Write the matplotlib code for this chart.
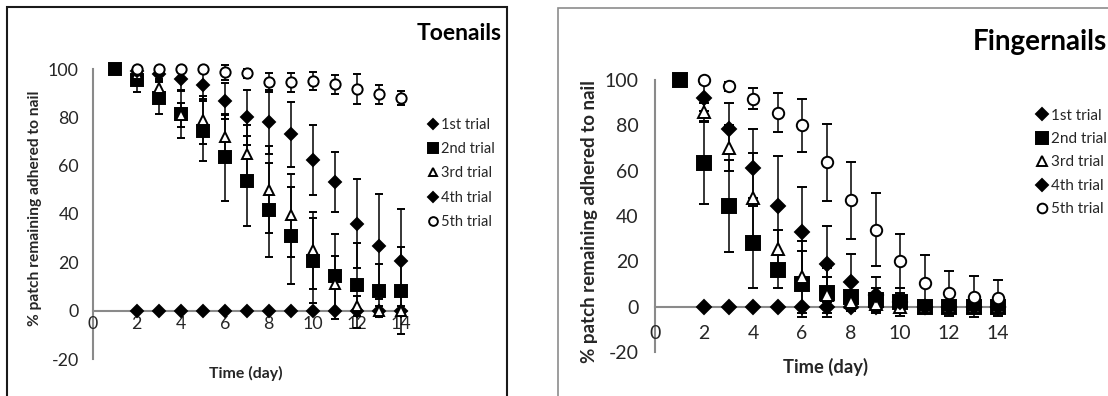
import numpy as np
import matplotlib
matplotlib.use('Agg')
import matplotlib.pyplot as plt
from matplotlib.patches import Rectangle

plt.rcParams['font.family'] = ['Lato', 'DejaVu Sans']
plt.rcParams['axes.unicode_minus'] = False

nan = np.nan
days = np.arange(1, 15)
labels = ['1st trial', '2nd trial', '3rd trial', '4th trial', '5th trial']

# toenails: mean and error per trial
toe_t1 = [nan, 0, 0, 0, 0, 0, 0, 0, 0, 0, 0, 0, 0, 0]
toe_t2 = [100, 95.4, 88, 81.3, 74.4, 63.4, 53.7, 41.6, 31, 20.7, 14.2, 10.5, 8.3, 8.3]
toe_t3 = [nan, 98, 92, 81, 79, 72, 65, 50, 39.4, 25, 11, 2, 0, 0]
toe_t4 = [nan, 99, 98, 96, 93.4, 86.8, 80, 78.2, 73, 62.4, 53.4, 36, 26.6, 20.4]
toe_t5 = [nan, 100, 100, 100, 100, 98.6, 98.2, 94.5, 94.5, 95, 93.7, 91.7, 89.5, 88.1]
toe_e2 = [0, 5, 6.7, 10, 12.4, 18, 18.7, 19.5, 20, 17.5, 17.5, 17.5, 11, 18]
toe_e3 = [nan, 2, 3, 5, 10, 9, 12, 18, 17, 16, 11.7, 4, 2, 2]
toe_e4 = [nan, 1, 2, 5, 6, 7.5, 11.5, 13.3, 13.5, 14.6, 12.4, 18.5, 21.6, 21.6]
toe_e5 = [nan, 0.5, 1, 1, 1, 3, 2, 4, 4, 3.7, 4, 6.2, 4, 3]

# fingernails
fin_t1 = [nan, 0, 0, 0, 0, 0, 0, 0, 0, 0, 0, 0, 0, 0]
fin_t2 = [100, 63.4, 44.3, 28, 16.2, 10, 6.2, 4.4, 3, 2.2, 0, 0, 0, 0]
fin_t3 = [nan, 85.8, 70, 48, 25.4, 13, 5, 2, 1, 0, 0, 0, 0, 0]
fin_t4 = [nan, 92.2, 78.5, 61.2, 44.6, 32.7, 18.9, 11, 5, 2, 0, 0, 0, 0]
fin_t5 = [nan, 100, 97.3, 91.8, 85.6, 80, 63.7, 47, 34, 20, 10.3, 5.9, 4.4, 3.7]
fin_e2 = [1, 18, 20.4, 20, 8, 14.4, 11, 6, 5, 4, 1, 1, 1, 1]
fin_e3 = [nan, 4, 10, 20, 8.6, 16, 8, 4, 3, 2, 0, 0, 0, 0]
fin_e4 = [nan, 6, 11.2, 17, 21.8, 20, 16.8, 12, 8, 6, 0, 0, 0, 0]
fin_e5 = [nan, 1, 2, 4.6, 8.7, 11.6, 17, 17, 16, 12, 12.3, 10, 9, 8]

AXIS_GRAY = '#8a8a8a'
TEXT = '#262626'


def draw_panel(ax, series, errs, scale, tick_fs, xpad, ypad):
    # marker style per trial: (marker, facecolor, size)
    styles = [('D', 'black', 6.1), ('s', 'black', 8.6), ('^', 'white', 7.4),
              ('D', 'black', 6.1), ('o', 'white', 7.4)]
    handles = []
    for vals, err, (m, fc, ms), lab in zip(series, errs, styles, labels):
        eb = ax.errorbar(days, vals, yerr=err, fmt=m, color='black', mfc=fc,
                         mec='black', mew=1.4, ms=ms * scale, ecolor='black',
                         elinewidth=1.1, capsize=3.2 * scale, capthick=1.1,
                         label=lab, clip_on=False, zorder=3)
        handles.append(eb[0])
    ax.set_xlim(0, 14.3)
    ax.set_ylim(-20, 100)
    ax.set_xticks(range(0, 15, 2))
    ax.set_yticks(range(-20, 101, 20))
    for s in ['top', 'right']:
        ax.spines[s].set_visible(False)
    ax.spines['bottom'].set_position(('data', 0))
    ax.spines['left'].set_position(('data', 0))
    for s in ['bottom', 'left']:
        ax.spines[s].set_color(AXIS_GRAY)
        ax.spines[s].set_linewidth(1.5)
        ax.spines[s].set_zorder(1)
    ax.tick_params(axis='both', length=0, labelsize=tick_fs, colors=TEXT)
    ax.tick_params(axis='x', pad=xpad)
    ax.tick_params(axis='y', pad=ypad)
    ax.patch.set_alpha(0)
    return handles


fig = plt.figure(figsize=(11.08, 3.96), dpi=100)
W, H = 1108, 396


def fx(px):
    return px / W


def fy(py):
    return 1 - py / H


# chart frames
fig.patches.append(Rectangle((fx(7), fy(400)), fx(500), (400 - 7) / H, transform=fig.transFigure,
                             fill=False, ec='#1a1a1a', lw=1.5, zorder=0))
fig.patches.append(Rectangle((fx(558), fy(400)), fx(600), (400 - 8) / H, transform=fig.transFigure,
                             fill=False, ec='#8c8c8c', lw=1.2, zorder=0))

# left: toenails
ax1 = fig.add_axes([fx(92.7), fy(359), fx(407.3 - 92.7), (359 - 69) / H])
h1 = draw_panel(ax1, [toe_t1, toe_t2, toe_t3, toe_t4, toe_t5],
                [None, toe_e2, toe_e3, toe_e4, toe_e5], 1.0, 12.8, 4, 10)
fig.text(fx(502), fy(33), 'Toenails', ha='right', va='center', fontsize=16.5,
         fontweight='bold', color='black')
fig.text(fx(35), fy(208), '% patch remaining adhered to nail', rotation=90, ha='center',
         va='center', fontsize=11.2, fontweight='bold', color=TEXT)
fig.text(fx(246), fy(373), 'Time (day)', ha='center', va='center', fontsize=11.4,
         fontweight='bold', color=TEXT)
fig.legend(handles=h1, labels=labels, loc='upper left', bbox_to_anchor=(fx(427), fy(118)),
           frameon=False, fontsize=10.5, handlelength=0.8, handletextpad=0.15,
           labelspacing=0.7, borderpad=0, borderaxespad=0, markerscale=0.85,
           labelcolor=TEXT)

# right: fingernails
ax2 = fig.add_axes([fx(655), fy(351.9), fx(1005.4 - 655), (351.9 - 80) / H])
h2 = draw_panel(ax2, [fin_t1, fin_t2, fin_t3, fin_t4, fin_t5],
                [None, fin_e2, fin_e3, fin_e4, fin_e5], 1.11, 14, 13, 12)
fig.text(fx(1107), fy(42), 'Fingernails', ha='right', va='center', fontsize=20,
         fontweight='bold', color='black')
fig.text(fx(590), fy(222), '% patch remaining adhered to nail', rotation=90, ha='center',
         va='center', fontsize=13.5, fontweight='bold', color=TEXT)
fig.text(fx(825.5), fy(367), 'Time (day)', ha='center', va='center', fontsize=13.2,
         fontweight='bold', color=TEXT)
fig.legend(handles=h2, labels=labels, loc='upper left', bbox_to_anchor=(fx(1035.5), fy(108.5)),
           frameon=False, fontsize=11, handlelength=0.8, handletextpad=0.2,
           labelspacing=0.62, borderpad=0, borderaxespad=0, markerscale=0.85,
           labelcolor=TEXT)

fig.savefig('out.png', dpi=100)
